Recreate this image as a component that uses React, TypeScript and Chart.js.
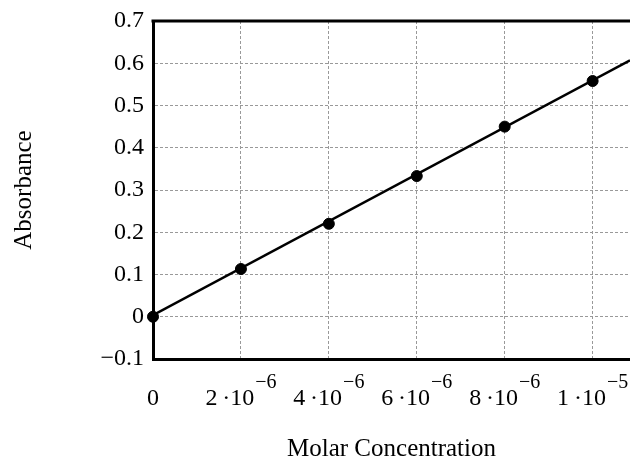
import React, { useEffect, useRef } from "react";
import { Chart, registerables } from "chart.js";

Chart.register(...registerables);

// Measured data points
const concentration = [0, 2e-6, 4e-6, 6e-6, 8e-6, 1e-5];
const absorbance = [0, 0.113, 0.22, 0.333, 0.45, 0.558];

// Fitted line (end points)
const fitX = [0, 1.085e-5];
const fitY = [0.004, 0.607];

// Axis ticks
const xTickValues = [0, 2e-6, 4e-6, 6e-6, 8e-6, 1e-5];
const xTickBase = ["0", "2\u2009\u00B710", "4\u2009\u00B710", "6\u2009\u00B710", "8\u2009\u00B710", "1\u2009\u00B710"];
const xTickExp = ["", "\u22126", "\u22126", "\u22126", "\u22126", "\u22125"];
const yMin = -0.1;
const yMax = 0.7;
const xMax = 1.085e-5;

const FONT = '"Liberation Serif", "Times New Roman", serif';

const customPlugin = {
  id: "customDecor",
  afterDraw(chart: any) {
    const { ctx, chartArea, scales } = chart;
    ctx.save();
    // top frame line
    ctx.strokeStyle = "#000";
    ctx.lineWidth = 3;
    ctx.beginPath();
    ctx.moveTo(chartArea.left - 1.5, chartArea.top);
    ctx.lineTo(chartArea.right, chartArea.top);
    ctx.stroke();
    // x tick labels with superscript exponents
    const xs = scales.x;
    ctx.fillStyle = "#000";
    ctx.textBaseline = "alphabetic";
    ctx.textAlign = "left";
    xTickValues.forEach((v, i) => {
      const px = xs.getPixelForValue(v);
      ctx.font = `24px ${FONT}`;
      const w1 = ctx.measureText(xTickBase[i]).width;
      ctx.font = `20px ${FONT}`;
      const w2 = xTickExp[i] ? ctx.measureText(xTickExp[i]).width + 1 : 0;
      const start = px - (w1 + w2) / 2;
      ctx.font = `24px ${FONT}`;
      ctx.fillText(xTickBase[i], start, chartArea.bottom + 46);
      if (xTickExp[i]) {
        ctx.font = `20px ${FONT}`;
        ctx.fillText(xTickExp[i], start + w1 + 1, chartArea.bottom + 29);
      }
    });
    ctx.restore();
  },
};

export default function App() {
  const ref = useRef<HTMLCanvasElement | null>(null);

  useEffect(() => {
    if (!ref.current) return;
    const chart = new Chart(ref.current, {
      type: "scatter",
      data: {
        datasets: [
          {
            type: "line",
            data: fitX.map((x, i) => ({ x, y: fitY[i] })),
            borderColor: "#000",
            borderWidth: 2.5,
            pointRadius: 0,
            fill: false,
          } as any,
          {
            type: "scatter",
            data: concentration.map((x, i) => ({ x, y: absorbance[i] })),
            backgroundColor: "#000",
            borderColor: "#000",
            pointRadius: 5.5,
            pointHoverRadius: 5.5,
            clip: false,
          } as any,
        ],
      },
      options: {
        animation: false,
        responsive: false,
        events: [],
        layout: { autoPadding: false, padding: { top: 16, right: 0, left: 0, bottom: 0 } },
        plugins: {
          legend: { display: false },
          tooltip: { enabled: false },
        },
        scales: {
          x: {
            type: "linear",
            min: 0,
            max: xMax,
            ticks: { display: false, stepSize: 2e-6, includeBounds: false },
            grid: { color: "#999999", lineWidth: 1, drawTicks: false },
            border: { display: true, color: "#000", width: 3, dash: [3, 2] },
            title: {
              display: true,
              text: "Molar Concentration",
              color: "#000",
              font: { family: FONT, size: 25, lineHeight: 0.76 },
              padding: { top: 0, bottom: 0 },
            },
            afterFit: (s: any) => {
              s.height = 100;
            },
          },
          y: {
            type: "linear",
            min: yMin,
            max: yMax,
            ticks: {
              stepSize: 0.1,
              color: "#000",
              padding: 9,
              font: { family: FONT, size: 24, lineHeight: 1 },
              callback: (v: any) => {
                const n = Number(v);
                if (Math.abs(n) < 1e-9) return "0";
                return n < 0 ? "\u2212" + Math.abs(n).toFixed(1) : n.toFixed(1);
              },
            },
            grid: { color: "#999999", lineWidth: 1, drawTicks: false },
            border: { display: true, color: "#000", width: 3, dash: [3, 2] },
            title: {
              display: true,
              text: "Absorbance",
              color: "#000",
              font: { family: FONT, size: 25, lineHeight: 1 },
              padding: { top: 11.5, bottom: 0 },
            },
            afterFit: (s: any) => {
              s.width = 153;
            },
          },
        },
      },
      plugins: [customPlugin],
    });
    return () => chart.destroy();
  }, []);

  return (
    <div style={{ position: "fixed", left: 0, top: 0, width: 630, height: 459, background: "#fff" }}>
      <canvas ref={ref} width={630} height={459} style={{ display: "block" }} />
    </div>
  );
}
